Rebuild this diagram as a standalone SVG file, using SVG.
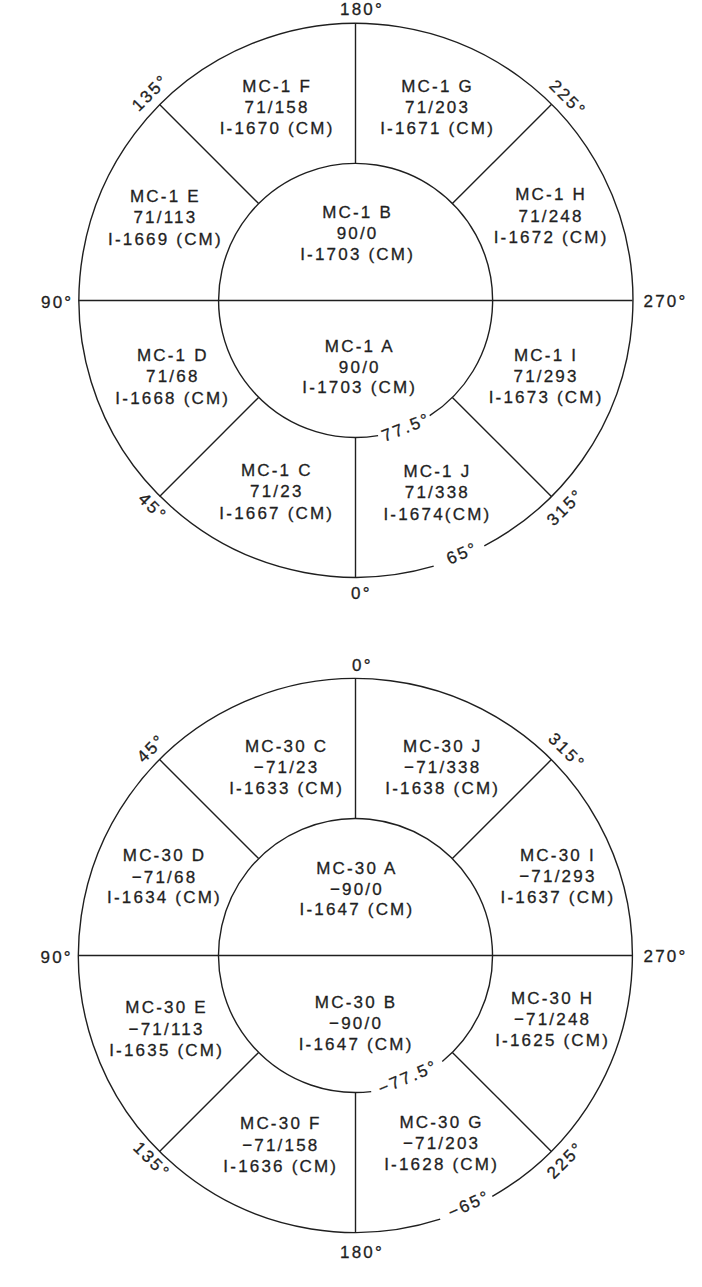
<svg xmlns="http://www.w3.org/2000/svg" width="702" height="1287" viewBox="0 0 702 1287">
<style>
.ln{fill:none;stroke:#1f1f1f;stroke-width:1.4}
.t,.d,.r{font-family:"Liberation Sans",Arial,sans-serif;font-size:17px;letter-spacing:2.2px;fill:#1f1f1f;stroke:#1f1f1f;stroke-width:0.3}
.t,.r{text-anchor:middle}
.d{text-anchor:start}
</style>
<rect width="702" height="1287" fill="#fff"/>

<g id="connectors">
  <!-- top diagram -->
  <path class="ln" d="M 433.7 566.2 A 277 277 0 1 1 484.3 545.8"/>
  <path class="ln" d="M 378.1 435.6 A 137 137 0 1 1 429.7 415.7"/>
  <line class="ln" x1="78.5" y1="300.5" x2="632.5" y2="300.5"/>
  <line class="ln" x1="355.5" y1="163.5" x2="355.5" y2="23.5"/>
  <line class="ln" x1="355.5" y1="437.5" x2="355.5" y2="577.5"/>
  <line class="ln" x1="258.6" y1="203.6" x2="159.6" y2="104.6"/>
  <line class="ln" x1="452.4" y1="203.6" x2="551.4" y2="104.6"/>
  <line class="ln" x1="258.6" y1="397.4" x2="159.6" y2="496.4"/>
  <line class="ln" x1="452.4" y1="397.4" x2="551.4" y2="496.4"/>
  <!-- bottom diagram -->
  <path class="ln" d="M 440.2 1219.2 A 277 277 0 1 1 492.3 1196.3"/>
  <path class="ln" d="M 371.2 1091.6 A 137 137 0 1 1 442.3 1061.5"/>
  <line class="ln" x1="78.5" y1="955.5" x2="632.5" y2="955.5"/>
  <line class="ln" x1="355.5" y1="818.5" x2="355.5" y2="678.5"/>
  <line class="ln" x1="355.5" y1="1092.5" x2="355.5" y2="1232.5"/>
  <line class="ln" x1="258.6" y1="858.6" x2="159.6" y2="759.6"/>
  <line class="ln" x1="452.4" y1="858.6" x2="551.4" y2="759.6"/>
  <line class="ln" x1="258.6" y1="1052.4" x2="159.6" y2="1151.4"/>
  <line class="ln" x1="452.4" y1="1052.4" x2="551.4" y2="1151.4"/>
</g>

<g id="labels-top">
  <text class="d" x="340" y="15">180°</text>
  <text class="d" x="351" y="599">0°</text>
  <text class="d" x="41" y="308">90°</text>
  <text class="d" x="643.5" y="307">270°</text>
  <text class="r" transform="translate(150,92.5) rotate(-45)" y="6">135°</text>
  <text class="r" transform="translate(568,98) rotate(45)" y="6">225°</text>
  <text class="r" transform="translate(153,507) rotate(45)" y="6">45°</text>
  <text class="r" transform="translate(565,507) rotate(-45)" y="6">315°</text>
  <text class="r" transform="translate(406,427) rotate(-21.5)" y="6">77.5°</text>
  <text class="r" transform="translate(462,553) rotate(-22.7)" y="6">65°</text>
</g>

<g id="labels-bottom">
  <text class="d" x="352" y="671">0°</text>
  <text class="d" x="340" y="1258">180°</text>
  <text class="d" x="40.5" y="963">90°</text>
  <text class="d" x="643.5" y="962">270°</text>
  <text class="r" transform="translate(151,748) rotate(-45)" y="6">45°</text>
  <text class="r" transform="translate(567,751) rotate(45)" y="6">315°</text>
  <text class="r" transform="translate(152,1160) rotate(45)" y="6">135°</text>
  <text class="r" transform="translate(565,1160) rotate(-45)" y="6">225°</text>
  <text class="r" transform="translate(408,1077) rotate(-23)" y="6">−77.5°</text>
  <text class="r" transform="translate(469,1204) rotate(-24)" y="6">−65°</text>
</g>

<g id="mc1-f"><text class="t" x="277.1" y="92">MC-1 F</text><text class="t" x="277.1" y="113">71/158</text><text class="t" x="277.1" y="134">I-1670 (CM)</text></g>
<g id="mc1-g"><text class="t" x="437.6" y="92">MC-1 G</text><text class="t" x="437.6" y="113">71/203</text><text class="t" x="437.6" y="134">I-1671 (CM)</text></g>
<g id="mc1-e"><text class="t" x="165.4" y="202">MC-1 E</text><text class="t" x="165.4" y="223">71/113</text><text class="t" x="165.4" y="245">I-1669 (CM)</text></g>
<g id="mc1-b"><text class="t" x="357.6" y="218">MC-1 B</text><text class="t" x="357.6" y="239">90/0</text><text class="t" x="357.6" y="260">I-1703 (CM)</text></g>
<g id="mc1-h"><text class="t" x="551.1" y="200">MC-1 H</text><text class="t" x="551.1" y="221.5">71/248</text><text class="t" x="551.1" y="243">I-1672 (CM)</text></g>
<g id="mc1-d"><text class="t" x="172.8" y="361">MC-1 D</text><text class="t" x="172.8" y="382">71/68</text><text class="t" x="172.8" y="404">I-1668 (CM)</text></g>
<g id="mc1-a"><text class="t" x="359.8" y="352">MC-1 A</text><text class="t" x="359.8" y="373">90/0</text><text class="t" x="359.8" y="393">I-1703 (CM)</text></g>
<g id="mc1-i"><text class="t" x="546.1" y="361">MC-1 I</text><text class="t" x="546.1" y="382">71/293</text><text class="t" x="546.1" y="403">I-1673 (CM)</text></g>
<g id="mc1-c"><text class="t" x="276.8" y="476">MC-1 C</text><text class="t" x="276.8" y="497">71/23</text><text class="t" x="276.8" y="519">I-1667 (CM)</text></g>
<g id="mc1-j"><text class="t" x="437.4" y="477">MC-1 J</text><text class="t" x="437.4" y="498">71/338</text><text class="t" x="437.4" y="520">I-1674(CM)</text></g>

<g id="mc30-c"><text class="t" x="286.6" y="752">MC-30 C</text><text class="t" x="286.6" y="773">−71/23</text><text class="t" x="286.6" y="794">I-1633 (CM)</text></g>
<g id="mc30-j"><text class="t" x="442.7" y="752">MC-30 J</text><text class="t" x="442.7" y="773">−71/338</text><text class="t" x="442.7" y="794">I-1638 (CM)</text></g>
<g id="mc30-d"><text class="t" x="164.5" y="861">MC-30 D</text><text class="t" x="164.5" y="883">−71/68</text><text class="t" x="164.5" y="903">I-1634 (CM)</text></g>
<g id="mc30-a"><text class="t" x="356.9" y="874">MC-30 A</text><text class="t" x="356.9" y="895">−90/0</text><text class="t" x="356.9" y="915">I-1647 (CM)</text></g>
<g id="mc30-i"><text class="t" x="557.9" y="861">MC-30 I</text><text class="t" x="557.9" y="882">−71/293</text><text class="t" x="557.9" y="903">I-1637 (CM)</text></g>
<g id="mc30-e"><text class="t" x="166.6" y="1013">MC-30 E</text><text class="t" x="166.6" y="1035">−71/113</text><text class="t" x="166.6" y="1056">I-1635 (CM)</text></g>
<g id="mc30-b"><text class="t" x="356.1" y="1008">MC-30 B</text><text class="t" x="356.1" y="1029">−90/0</text><text class="t" x="356.1" y="1050">I-1647 (CM)</text></g>
<g id="mc30-h"><text class="t" x="552.6" y="1004">MC-30 H</text><text class="t" x="552.6" y="1025">−71/248</text><text class="t" x="552.6" y="1046">I-1625 (CM)</text></g>
<g id="mc30-f"><text class="t" x="280.8" y="1129">MC-30 F</text><text class="t" x="280.8" y="1151">−71/158</text><text class="t" x="280.8" y="1172">I-1636 (CM)</text></g>
<g id="mc30-g"><text class="t" x="441.6" y="1128">MC-30 G</text><text class="t" x="441.6" y="1149">−71/203</text><text class="t" x="441.6" y="1170">I-1628 (CM)</text></g>
</svg>
